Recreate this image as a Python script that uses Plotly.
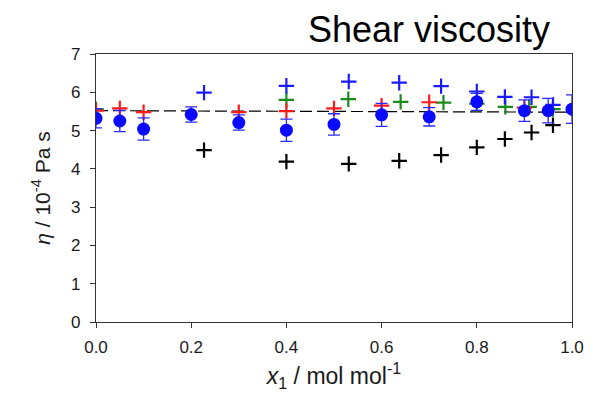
import plotly.graph_objects as go

# Blue circles with error bars
circ_x = [0.0, 0.05, 0.1, 0.2, 0.3, 0.4, 0.5, 0.6, 0.7, 0.8, 0.9, 0.95, 1.0]
circ_y = [5.32, 5.25, 5.04, 5.42, 5.21, 5.01, 5.16, 5.41, 5.36, 5.75, 5.52, 5.52, 5.56]
circ_err = [0.25, 0.28, 0.29, 0.20, 0.20, 0.29, 0.28, 0.30, 0.24, 0.22, 0.28, 0.32, 0.37]

# Red plus
red_x = [0.0, 0.05, 0.1, 0.3, 0.4, 0.5, 0.6, 0.7, 0.9]
red_y = [5.52, 5.58, 5.48, 5.48, 5.51, 5.58, 5.65, 5.74, 5.60]

# Green plus
green_x = [0.0, 0.4, 0.53, 0.64, 0.73, 0.8, 0.86, 0.91, 0.96]
green_y = [5.56, 5.80, 5.82, 5.75, 5.73, 5.70, 5.62, 5.62, 5.56]

# Blue plus
bplus_x = [0.227, 0.4, 0.531, 0.637, 0.725, 0.8, 0.859, 0.915, 0.96]
bplus_y = [5.99, 6.17, 6.28, 6.25, 6.16, 6.02, 5.88, 5.87, 5.67]

# Black plus
black_x = [0.227, 0.4, 0.531, 0.637, 0.725, 0.8, 0.859, 0.915, 0.96]
black_y = [4.49, 4.19, 4.13, 4.21, 4.36, 4.56, 4.78, 4.95, 5.14]

# Dashed mean line
mean_x = [0.0, 1.0]
mean_y = [5.52, 5.48]

x_ticks = [0.0, 0.2, 0.4, 0.6, 0.8, 1.0]
y_ticks = [0, 1, 2, 3, 4, 5, 6, 7]

FONT = "Liberation Sans, Arial"

fig = go.Figure()

fig.add_trace(go.Scatter(x=mean_x, y=mean_y, mode="lines",
                         line=dict(color="black", width=1.2, dash="12px,5px")))

def plus(x, y, color):
    fig.add_trace(go.Scatter(x=x, y=y, mode="markers",
                             marker=dict(symbol="cross-thin", size=11,
                                         line=dict(color=color, width=2.2))))

plus(black_x, black_y, "black")
plus(green_x, green_y, "#1a8a1a")
plus(red_x, red_y, "#ff1a1a")
plus(bplus_x, bplus_y, "#1a1aff")

fig.add_trace(go.Scatter(x=circ_x, y=circ_y, mode="markers",
                         marker=dict(symbol="circle", size=13, color="#0a0aff"),
                         error_y=dict(type="data", array=circ_err, visible=True,
                                      color="#2a2aff", thickness=1.3, width=6)))

axis_common = dict(showgrid=False, zeroline=False, showline=True, mirror=True,
                   linecolor="#333333", linewidth=1.2, ticks="outside",
                   ticklen=5, tickcolor="#333333",
                   tickfont=dict(family=FONT, size=17, color="#1a1a1a"))

fig.update_xaxes(range=[0, 1.0], tickvals=x_ticks,
                 ticktext=[f"{v:.1f}" for v in x_ticks], **axis_common,
                 ticklabelstandoff=4,
                 title=dict(text="<i>x</i><sub>1</sub> / mol mol<sup>-1</sup>",
                            font=dict(family=FONT, size=23, color="#1a1a1a"),
                            standoff=12))
fig.update_yaxes(range=[0, 7], tickvals=y_ticks, **axis_common,
                 ticklabelstandoff=6,
                 title=dict(text="<i>η</i> / 10<sup>-4</sup> Pa s",
                            font=dict(family=FONT, size=21, color="#1a1a1a"),
                            standoff=14))

fig.add_annotation(text="Shear viscosity", xref="paper", yref="paper",
                   x=0.70, y=1.0, xanchor="center", yanchor="bottom", yshift=2,
                   showarrow=False,
                   font=dict(family=FONT, size=36, color="black"))

fig.update_layout(width=604, height=400, showlegend=False,
                  plot_bgcolor="white", paper_bgcolor="white",
                  margin=dict(l=96, r=32, t=54, b=78))

fig.write_html("out.html")
